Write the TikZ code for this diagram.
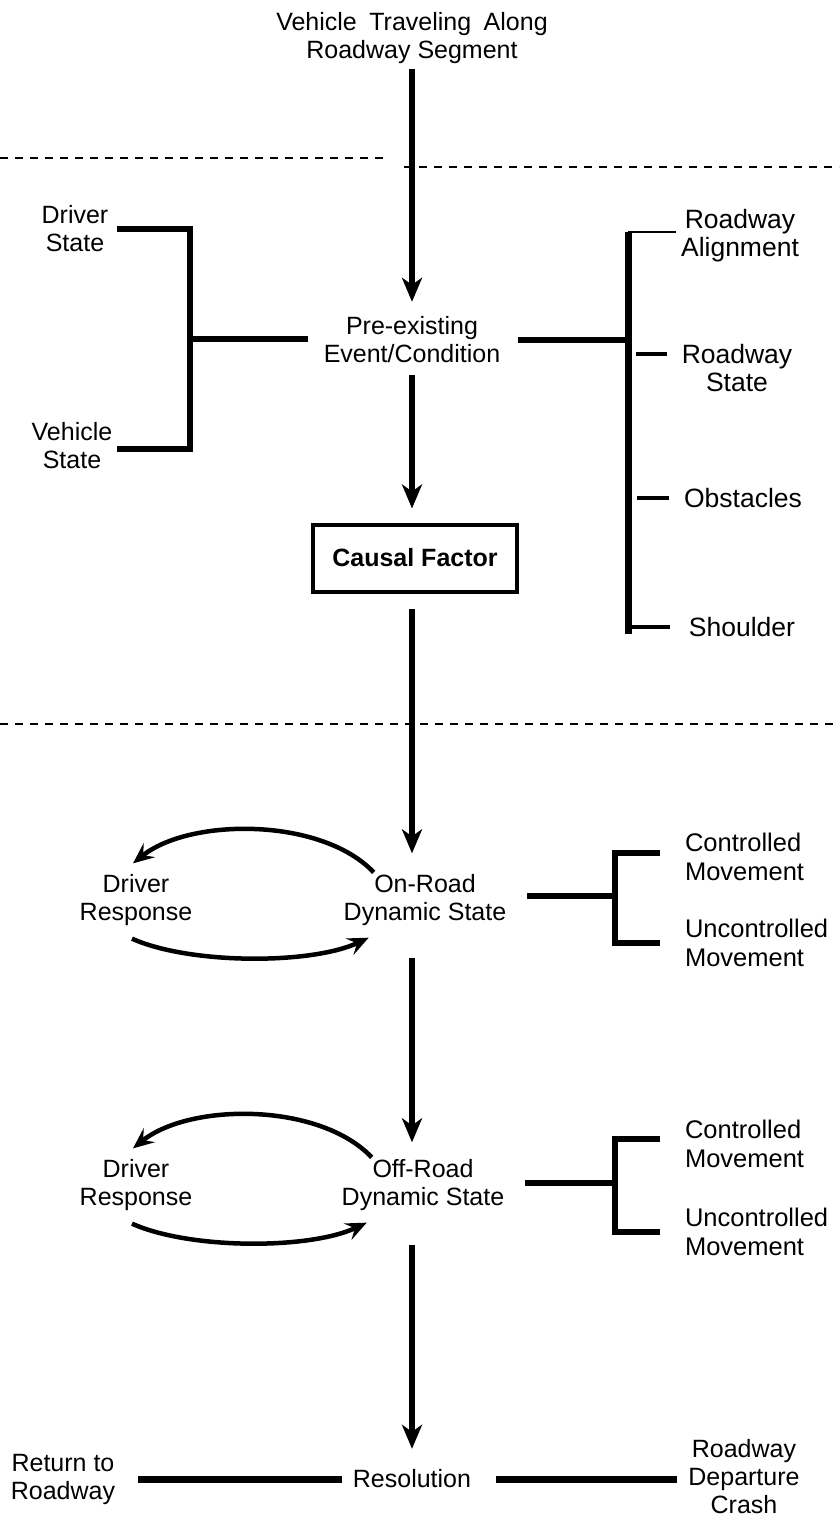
\documentclass[tikz,border=0pt]{standalone}
\usepackage{fontspec}
\setmainfont{Liberation Sans}
\usetikzlibrary{arrows.meta,calc}
\begin{document}
\begin{tikzpicture}[x=1pt,y=-1pt,
  lbl/.style={font=\fontsize{25}{28}\selectfont, align=center, inner sep=0pt, outer sep=0pt},
  lblr/.style={font=\fontsize{26.5}{28}\selectfont, align=center, inner sep=0pt, outer sep=0pt},
  lbll/.style={font=\fontsize{25.5}{29}\selectfont, align=left, anchor=west, inner sep=0pt, outer sep=0pt},
  flow/.style={line width=5.5pt, -{Stealth[length=24pt,width=20pt,inset=7pt]}},
  feedback/.style={line width=4.5pt, -{Stealth[length=21pt,width=18pt,inset=8pt]}},
  bracket/.style={line width=5.5pt},
  stub/.style={line width=3.5pt},
  hair/.style={line width=2pt},
  bar/.style={line width=7pt},
  divider/.style={line width=2.2pt, dash pattern=on 8pt off 7pt},
  boxed/.style={draw, line width=4pt, minimum width=204pt, minimum height=67pt,
    font=\fontsize{25}{28}\selectfont\bfseries, inner sep=0pt}
]
\useasboundingbox (0,0) rectangle (839,1518);

% ---- labels ----
\node[lbl] (top) at (412,38) {Vehicle\hspace{0.5em}Traveling\hspace{0.5em}Along\\Roadway Segment};
\node[lbl] (ds)  at (75,229)  {Driver\\State};
\node[lbl] (vs)  at (72,446)  {Vehicle\\State};
\node[lbl] (pre) at (412,340) {Pre-existing\\Event/Condition};
\node[lblr] (ra) at (740,236) {Roadway\\Alignment};
\node[lblr] (rs) at (737,368) {Roadway\\State};
\node[lblr] (obs) at (743,498) {Obstacles};
\node[lblr] (sh) at (742,627) {Shoulder};
\node[boxed] (cf) at (415,558) {Causal Factor};

\node[lbl] (on)  at (425,900)  {On-Road\\Dynamic State};
\node[lbl] (dr1) at (136,900)  {Driver\\Response};
\node[lbll] (cm1) at (685,857) {Controlled\\Movement};
\node[lbll] (um1) at (685,943) {Uncontrolled\\Movement};

\node[lbl] (off) at (423,1185) {Off-Road\\Dynamic State};
\node[lbl] (dr2) at (136,1185) {Driver\\Response};
\node[lbll] (cm2) at (685,1144) {Controlled\\Movement};
\node[lbll] (um2) at (685,1232) {Uncontrolled\\Movement};

\node[lbl] (res) at (412,1479) {Resolution};
\node[lbl] (ret) at (63,1479)  {Return to\\Roadway};
\node[lbl] (rdc) at (744,1477) {Roadway\\Departure\\Crash};

% ---- section dividers ----
\draw[divider] (0,158) -- (388,158);
\draw[divider] (404,167) -- (839,167);
\draw[divider] (0,724) -- (839,724);

% ---- main flow ----
\draw[flow, shorten <=5pt, shorten >=15pt] (top.south) -- (top.south |- pre.north);
\draw[flow, shorten <=12pt, shorten >=14pt] (pre.south) -- (pre.south |- cf.north);
\draw[flow, shorten <=15pt, shorten >=21pt] (pre.south |- cf.south) -- (pre.south |- on.north);
\draw[flow, shorten <=32pt, shorten >=17pt] (pre.south |- on.south) -- (pre.south |- off.north);
\draw[flow, shorten <=34pt, shorten >=21pt] (pre.south |- off.south) -- (res.north);

% ---- driver / vehicle state bracket ----
\coordinate (lj) at (190,339);
\draw[bracket] ([xshift=9pt]ds.east) -| (lj) |- ([xshift=5pt,yshift=-3pt]vs.east);
\draw[bracket] (lj) -- ([xshift=-16pt]pre.west |- lj);

% ---- roadway bracket ----
\coordinate (rtop) at (628,232);
\coordinate (rbot) at (628,634);
\draw[line width=7pt] (rtop) -- (rbot);
\draw[bracket] ([xshift=18pt]pre.east) -- (pre.east -| rtop);
\draw[hair] (rtop) -- ([xshift=-5pt]rtop -| ra.west);
\draw[stub] ([xshift=8pt,yshift=14pt]rtop |- rs.west) -- ([xshift=-15pt,yshift=14pt]rs.west);
\draw[stub] ([xshift=9pt]rtop |- obs.west) -- ([xshift=-15pt]obs.west);
\draw[stub] (rtop |- sh.west) -- ([xshift=-19pt]sh.west);

% ---- on-road state ----
\coordinate (oj1) at (615,896);
\draw[bracket] ([xshift=21pt]on.east |- oj1) -- (oj1);
\draw[bracket] ([xshift=-25pt,yshift=4pt]cm1.west) -| (oj1) |- ([xshift=-25pt]um1.west);
\draw[feedback] ($(on.north west)+(30,-2)$) .. controls ($(on.north west)+(-22,-57)$) and ($(dr1.north)+(54,-57)$) .. ($(dr1.north)+(-3,-11)$);
\draw[feedback] ($(dr1.south)+(-4,13)$) .. controls ($(dr1.south)+(54,39)$) and ($(on.south west)+(-32,39)$) .. ($(on.south west)+(25,12)$);

% ---- off-road state ----
\coordinate (oj2) at (615,1183);
\draw[bracket] ([xshift=21pt]off.east |- oj2) -- (oj2);
\draw[bracket] ([xshift=-25pt,yshift=5pt]cm2.west) -| (oj2) |- ([xshift=-25pt]um2.west);
\draw[feedback] ($(off.north west)+(30,-2)$) .. controls ($(off.north west)+(-22,-57)$) and ($(dr2.north)+(54,-57)$) .. ($(dr2.north)+(-3,-11)$);
\draw[feedback] ($(dr2.south)+(-4,13)$) .. controls ($(dr2.south)+(54,39)$) and ($(off.south west)+(-32,39)$) .. ($(off.south west)+(25,12)$);

% ---- resolution ----
\draw[bar] ([xshift=23pt]ret.east) -- ([xshift=-11pt]res.west);
\draw[bar] ([xshift=25pt]res.east) -- ([xshift=-11pt]res.east -| rdc.west);
\end{tikzpicture}
\end{document}
